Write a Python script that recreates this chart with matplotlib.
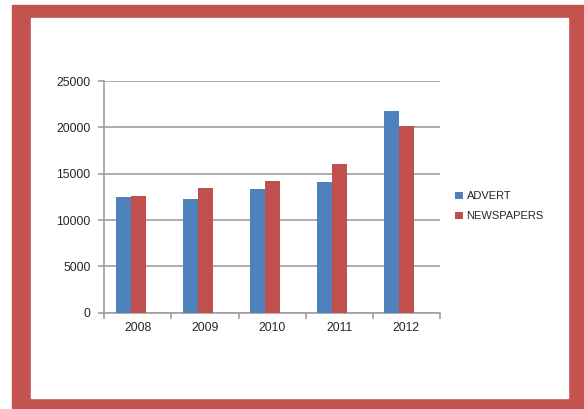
import matplotlib.pyplot as plt
import numpy as np
from matplotlib.patches import Rectangle

years = ['2008', '2009', '2010', '2011', '2012']
advert = [12500, 12300, 13300, 14100, 21750]
newspapers = [12550, 13500, 14200, 16050, 20100]
series_names = ['ADVERT', 'NEWSPAPERS']
y_ticks = [0, 5000, 10000, 15000, 20000, 25000]

blue = '#4F81BD'
red = '#C0504D'
grid_col = '#A0A0A0'
text_col = '#262626'

plt.rcParams['font.family'] = ['Liberation Sans', 'DejaVu Sans']

fig = plt.figure(figsize=(5.84, 4.09), dpi=100)
W, H = 584, 409

# red frame round the chart
fig.patches.append(Rectangle((12 / W, 0), (W - 12) / W, (H - 5) / H,
                             transform=fig.transFigure, color='#C4524F', zorder=0))
fig.patches.append(Rectangle((31 / W, 11 / H), (568 - 31) / W, (398 - 18) / H,
                             transform=fig.transFigure, color='white', zorder=1))

ax = fig.add_axes([104.3 / W, 1 - 312.7 / H, (440 - 104.3) / W, (312.7 - 81) / H])
ax.set_facecolor('none')
ax.set_zorder(3)

x = np.arange(len(years))
bw = 0.224
shift = -0.105
ax.bar(x + shift - bw / 2, advert, bw, color=blue, label=series_names[0], zorder=3)
ax.bar(x + shift + bw / 2, newspapers, bw, color=red, label=series_names[1], zorder=3)

ax.set_xlim(-0.5, len(years) - 0.5)
ax.set_ylim(0, 25000)
ax.set_yticks(y_ticks)
ax.set_yticklabels([str(v) for v in y_ticks])
ax.set_xticks(x)
ax.set_xticklabels(years)
ax.set_xticks(np.arange(len(years) + 1) - 0.5, minor=True)
ax.tick_params(axis='x', which='major', length=0, pad=7, labelsize=8.7, labelcolor=text_col)
ax.tick_params(axis='x', which='minor', length=4, color=grid_col, width=1.2)
ax.tick_params(axis='y', length=4, color=grid_col, width=1.2, labelsize=8.7,
               labelcolor=text_col, pad=6)

ax.yaxis.grid(True, color=grid_col, linewidth=1.2, zorder=0)
ax.set_axisbelow(True)
for s in ['top', 'right']:
    ax.spines[s].set_visible(False)
ax.spines['left'].set_color(grid_col)
ax.spines['bottom'].set_color(grid_col)
ax.spines['left'].set_linewidth(1.2)
ax.spines['bottom'].set_linewidth(1.2)

leg = fig.legend(loc='upper left', bbox_to_anchor=(451 / W, 1 - 187 / H),
                 frameon=False, fontsize=8, handlelength=0.7, handleheight=0.7,
                 handletextpad=0.3, labelspacing=0.9, borderaxespad=0)
leg.set_zorder(4)
for t in leg.get_texts():
    t.set_color(text_col)

fig.savefig('out.png', dpi=100)
